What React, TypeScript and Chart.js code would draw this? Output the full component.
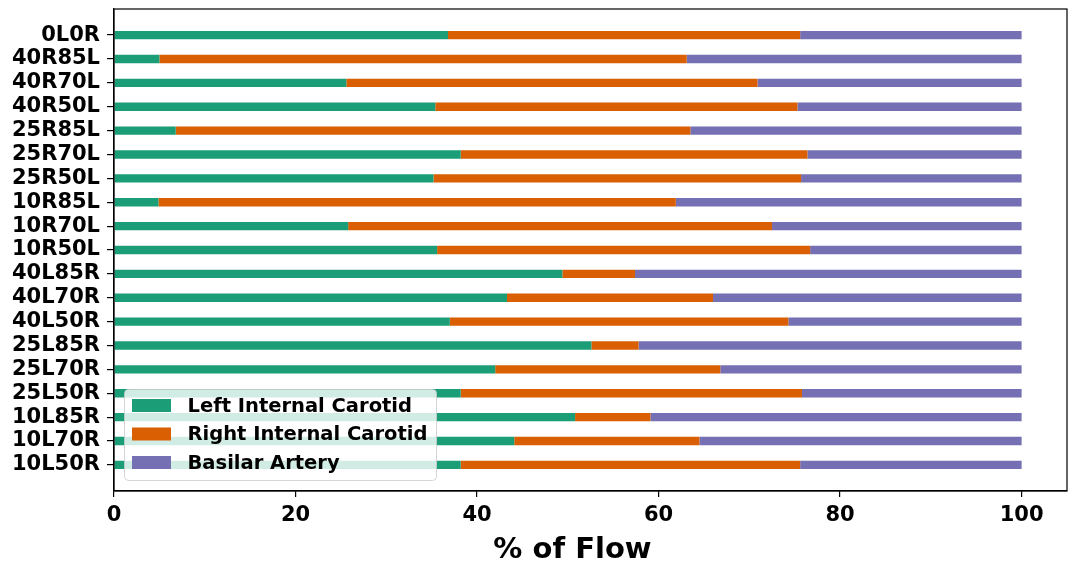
import React, { useEffect, useRef } from "react";
import { Chart, registerables } from "chart.js";

Chart.register(...registerables);

// Flow configurations, listed top to bottom as drawn
const categories = [
  "0L0R", "40R85L", "40R70L", "40R50L", "25R85L", "25R70L", "25R50L",
  "10R85L", "10R70L", "10R50L", "40L85R", "40L70R", "40L50R", "25L85R",
  "25L70R", "25L50R", "10L85R", "10L70R", "10L50R",
];

// Share of total flow (%) per vessel
const leftInternalCarotid = [
  36.8, 5.0, 25.6, 35.4, 6.8, 38.2, 35.2, 4.9, 25.8, 35.6,
  49.4, 43.3, 37.0, 52.6, 42.0, 38.2, 50.8, 44.1, 38.2,
];
const rightInternalCarotid = [
  38.8, 58.1, 45.3, 39.9, 56.7, 38.2, 40.5, 57.0, 46.7, 41.1,
  8.0, 22.7, 37.3, 5.2, 24.8, 37.6, 8.3, 20.4, 37.4,
];
const basilarArtery = [
  24.4, 36.9, 29.1, 24.7, 36.5, 23.6, 24.3, 38.1, 27.5, 23.3,
  42.6, 34.0, 25.7, 42.2, 33.2, 24.2, 40.9, 35.5, 24.4,
];

const xTicks = [0, 20, 40, 60, 80, 100];

const seriesNames = ["Left Internal Carotid", "Right Internal Carotid", "Basilar Artery"];
const seriesColors = ["#1b9e77", "#d95f02", "#7570b3"];
const xAxisTitle = "% of Flow";

const FONT = "'DejaVu Sans', sans-serif";

// Box around the plot area plus the x-axis title
const framePlugin = {
  id: "frame",
  afterDraw(chart: any) {
    const { ctx, chartArea: a } = chart;
    ctx.save();
    ctx.strokeStyle = "#000";
    ctx.lineWidth = 1.2;
    ctx.strokeRect(a.left, a.top, a.right - a.left, a.bottom - a.top);
    ctx.font = `bold 29px ${FONT}`;
    ctx.fillStyle = "#000";
    ctx.textAlign = "center";
    ctx.textBaseline = "alphabetic";
    ctx.fillText(xAxisTitle, (a.left + a.right) / 2 - 18, a.bottom + 67);
    ctx.restore();
  },
};

// Semi-transparent legend in the lower-left corner of the plot
const insetLegendPlugin = {
  id: "insetLegend",
  afterDatasetsDraw(chart: any) {
    const { ctx, chartArea: a } = chart;
    const x = a.left + 10.5;
    const y = a.bottom - 101.5;
    const w = 312;
    const h = 91;
    ctx.save();
    ctx.beginPath();
    ctx.roundRect(x, y, w, h, 4);
    ctx.fillStyle = "rgba(255,255,255,0.8)";
    ctx.fill();
    ctx.strokeStyle = "rgba(204,204,204,0.8)";
    ctx.lineWidth = 1;
    ctx.stroke();
    ctx.font = `bold 19.5px ${FONT}`;
    ctx.textBaseline = "middle";
    ctx.textAlign = "left";
    chart.data.datasets.forEach((ds: any, i: number) => {
      const cy = y + 16 + i * 28.5;
      ctx.fillStyle = ds.backgroundColor;
      ctx.fillRect(x + 7.5, cy - 6.5, 39, 13);
      ctx.fillStyle = "#000";
      ctx.fillText(ds.label, x + 63, cy + 1);
    });
    ctx.restore();
  },
};

export default function App() {
  const canvasRef = useRef<HTMLCanvasElement | null>(null);

  useEffect(() => {
    if (!canvasRef.current) return;
    const n = categories.length;
    const positions = categories.map((_, i) => i);
    const series = [leftInternalCarotid, rightInternalCarotid, basilarArtery];

    const chart = new Chart(canvasRef.current, {
      type: "bar",
      data: {
        datasets: series.map((values, s) => ({
          label: seriesNames[s],
          data: values.map((v, i) => ({ x: v, y: positions[i] })),
          backgroundColor: seriesColors[s],
          borderWidth: 0,
          categoryPercentage: 1,
          barPercentage: 0.35,
        })),
      },
      options: {
        animation: false,
        responsive: true,
        maintainAspectRatio: false,
        indexAxis: "y",
        layout: { padding: { top: 9, right: 2, left: 0, bottom: 0 } },
        plugins: {
          legend: { display: false },
          tooltip: { enabled: false },
        },
        scales: {
          x: {
            type: "linear",
            stacked: true,
            min: 0,
            max: 105,
            afterFit: (scale: any) => {
              scale.height = 72;
              scale.paddingLeft = 0;
              scale.paddingRight = 0;
            },
            afterBuildTicks: (scale: any) => {
              scale.ticks = xTicks.map((v) => ({ value: v }));
            },
            grid: {
              display: true,
              drawOnChartArea: false,
              drawTicks: true,
              tickLength: 6,
              color: "#000",
              lineWidth: 1.2,
            },
            border: { display: true, color: "#000", width: 1.2 },
            ticks: {
              color: "#000",
              padding: 6,
              maxRotation: 0,
              font: { family: FONT, size: 21, weight: "bold" },
            },
          },
          y: {
            type: "linear",
            stacked: true,
            reverse: true,
            offset: false,
            min: -1.0925,
            max: n - 1 + 1.0925,
            afterFit: (scale: any) => {
              scale.width = 114;
              scale.paddingTop = 0;
              scale.paddingBottom = 0;
            },
            afterBuildTicks: (scale: any) => {
              scale.ticks = positions.map((v) => ({ value: v }));
            },
            grid: {
              display: true,
              offset: false,
              drawOnChartArea: false,
              drawTicks: true,
              tickLength: 7,
              color: "#000",
              lineWidth: 1.2,
            },
            border: { display: true, color: "#000", width: 1.2 },
            ticks: {
              color: "#000",
              padding: 7,
              autoSkip: false,
              font: { family: FONT, size: 21, weight: "bold" },
              callback: (value: any) => categories[Math.round(Number(value))] ?? "",
            },
          },
        },
      },
      plugins: [insetLegendPlugin, framePlugin],
    });

    return () => chart.destroy();
  }, []);

  return (
    <div style={{ position: "absolute", left: 0, top: 0, width: 1069, height: 563, background: "#fff" }}>
      <canvas ref={canvasRef} />
    </div>
  );
}
